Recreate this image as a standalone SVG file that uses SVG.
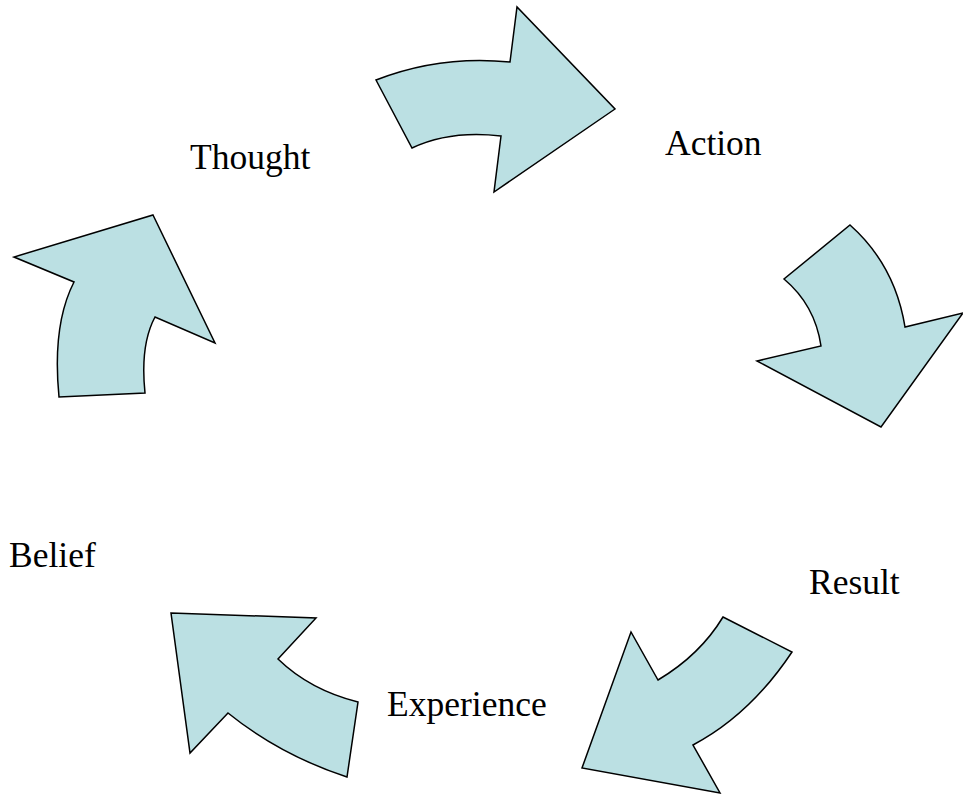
<svg xmlns="http://www.w3.org/2000/svg" width="963" height="796" viewBox="0 0 963 796">
<style>
.arr{fill:#bbe0e3;stroke:#000;stroke-width:1.5;stroke-linejoin:miter}
.lbl{font-family:"Liberation Serif","Times New Roman",serif;font-size:35.5px;fill:#000}
</style>
<rect width="963" height="796" fill="#fff"/>
<g id="connectors">
<path id="arrow-thought-action" class="arr" d="M376,80 Q440,55 510,62 L517,7 L615,109 L494,192 L501,136 Q450,130 412,148 Z"/>
<path id="arrow-action-result" class="arr" d="M850,225 Q895,265 905,327 L963,313 L881,427 L757,361 L821,346 Q815,305 784,279 Z"/>
<path id="arrow-result-experience" class="arr" d="M723,617 L792,652 Q750,715 693,745 L720,793 L582,768 L631,632 L658,680 Q700,655 723,617 Z"/>
<path id="arrow-experience-belief" class="arr" d="M171,613 L316,618 L278,659 Q310,690 358,702 L347,777 Q280,755 228,713 L190,753 Z"/>
<path id="arrow-belief-thought" class="arr" d="M153,215 L215,343 L155,317 Q140,345 145,393 L59,397 Q52,325 74,282 L14,257 Z"/>
</g>
<g id="thought"><text class="lbl" x="190" y="169">Thought</text></g>
<g id="action"><text class="lbl" x="665" y="155">Action</text></g>
<g id="result"><text class="lbl" x="809" y="594">Result</text></g>
<g id="experience"><text class="lbl" x="387" y="716">Experience</text></g>
<g id="belief"><text class="lbl" x="9" y="567">Belief</text></g>
</svg>
